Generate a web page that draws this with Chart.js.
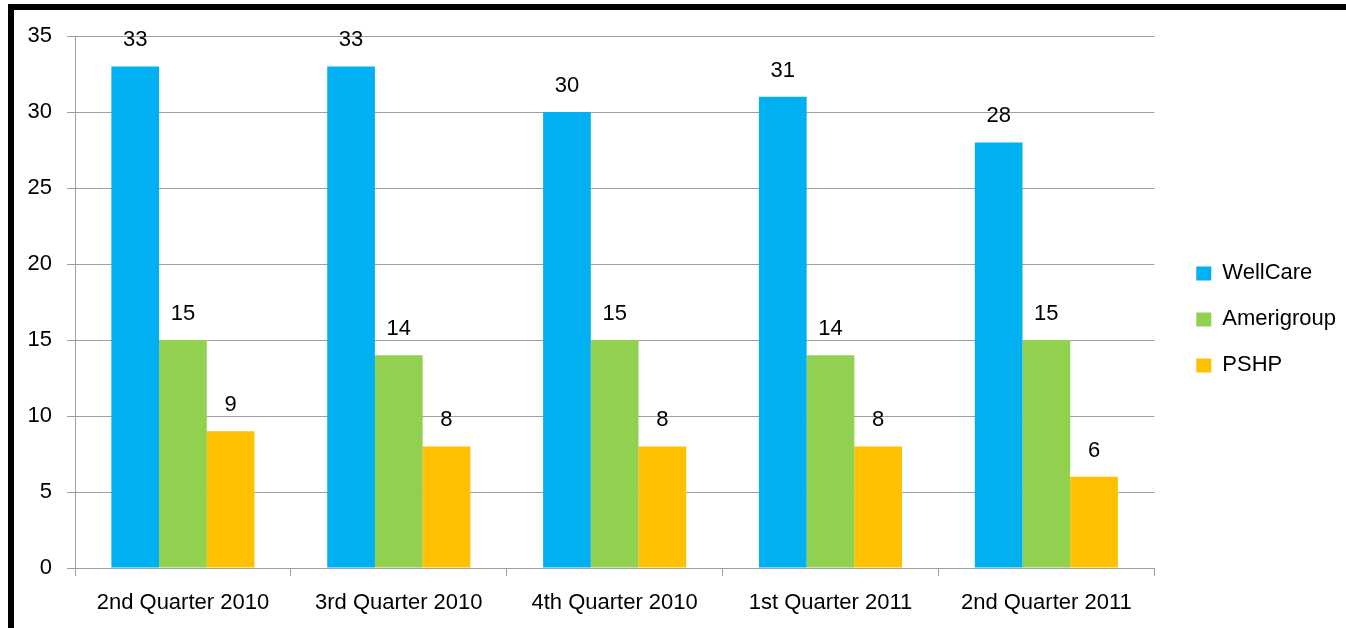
<!DOCTYPE html>
<html>
<head>
<meta charset="utf-8">
<script src="https://cdn.jsdelivr.net/npm/chart.js@4"></script>
<style>
  html, body { margin: 0; padding: 0; background: #fff; }
  #wrap { position: relative; width: 1346px; height: 628px; }
  #frame { position: absolute; left: 8px; top: 4px; right: 0; bottom: 0;
           border-top: 6px solid #000; border-left: 6px solid #000; pointer-events: none; }
</style>
</head>
<body>
<div id="wrap">
  <canvas id="c" width="1346" height="628"></canvas>
  <div id="frame"></div>
</div>
<script>
const categories = ['2nd Quarter 2010', '3rd Quarter 2010', '4th Quarter 2010', '1st Quarter 2011', '2nd Quarter 2011'];
const wellcare = [33, 33, 30, 31, 28];
const amerigroup = [15, 14, 15, 14, 15];
const pshp = [9, 8, 8, 8, 6];
const seriesNames = ['WellCare', 'Amerigroup', 'PSHP'];
const seriesColors = ['#00B0F0', '#92D050', '#FFC000'];
const yTicks = [0, 5, 10, 15, 20, 25, 30, 35];

const FONT = "'Liberation Sans', Arial, sans-serif";
const GRID = '#a0a0a0';

const valueLabels = {
  id: 'valueLabels',
  afterDatasetsDraw(chart) {
    const ctx = chart.ctx;
    ctx.save();
    ctx.font = '22px ' + FONT;
    ctx.fillStyle = '#000';
    ctx.textAlign = 'center';
    ctx.textBaseline = 'middle';
    chart.data.datasets.forEach((ds, i) => {
      const meta = chart.getDatasetMeta(i);
      meta.data.forEach((el, j) => {
        ctx.fillText(String(ds.data[j]), el.x, el.y - 26);
      });
    });
    ctx.restore();
  }
};

new Chart(document.getElementById('c'), {
  type: 'bar',
  data: {
    labels: categories,
    datasets: [wellcare, amerigroup, pshp].map((d, i) => ({
      label: seriesNames[i],
      data: d,
      backgroundColor: seriesColors[i],
      borderWidth: 0,
      categoryPercentage: 0.663,
      barPercentage: 1.0
    }))
  },
  options: {
    responsive: false,
    animation: false,
    layout: { padding: { left: 0, right: 0, top: 36, bottom: 0 } },
    plugins: {
      tooltip: { enabled: false },
      legend: {
        position: 'right',
        align: 'start',
        title: { display: true, text: ' ', padding: 88, font: { family: FONT, size: 22 } },
        labels: {
          boxWidth: 15,
          boxHeight: 14,
          padding: 24,
          color: '#000',
          font: { family: FONT, size: 22 }
        }
      }
    },
    scales: {
      x: {
        grid: { display: true, drawOnChartArea: false, drawTicks: true, tickLength: 8, color: GRID, offset: true },
        border: { display: true, color: GRID, width: 1 },
        ticks: { color: '#000', font: { family: FONT, size: 22 }, padding: 14, maxRotation: 0, autoSkip: false },
        afterFit: s => { s.height = 60; }
      },
      y: {
        min: 0, max: 35,
        afterBuildTicks: s => { s.ticks = yTicks.map(v => ({ value: v })); },
        grid: { color: GRID, drawTicks: true, tickLength: 8 },
        border: { display: true, color: GRID, width: 1 },
        ticks: { color: '#000', font: { family: FONT, size: 22 }, padding: 15 },
        afterFit: s => { s.width = 75; }
      },
      y2: {
        position: 'right',
        display: true,
        grid: { display: false, drawTicks: false },
        border: { display: false },
        ticks: { display: false },
        afterFit: s => { s.width = 18; }
      }
    }
  },
  plugins: [valueLabels]
});
</script>
</body>
</html>
